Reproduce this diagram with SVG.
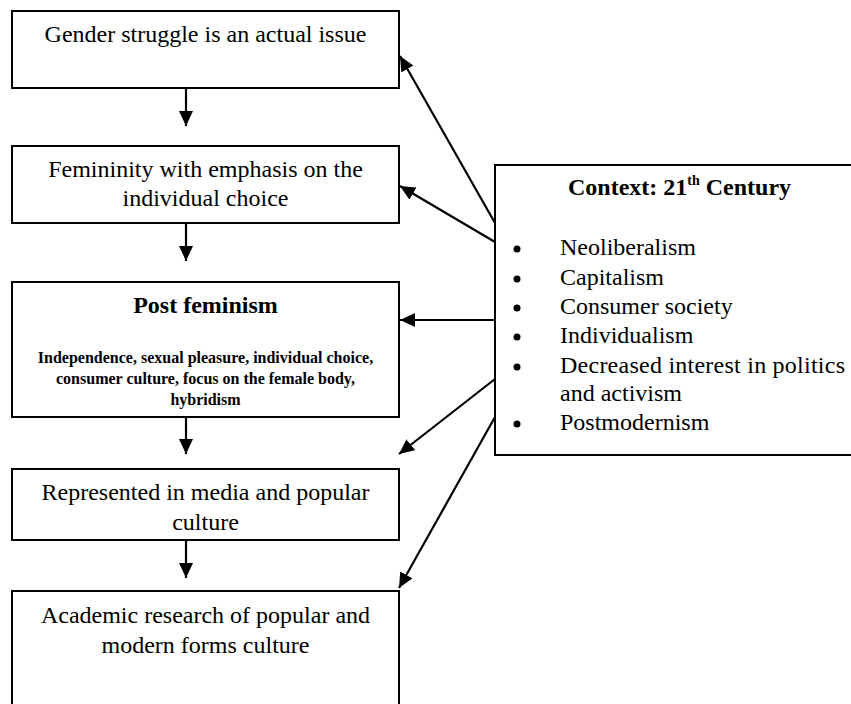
<svg xmlns="http://www.w3.org/2000/svg" width="851" height="704" viewBox="0 0 851 704">
<defs>
<style>
.box{fill:#fff;stroke:#000;stroke-width:2}
.t{font-family:"Liberation Serif","Times New Roman",serif;font-size:24px;fill:#000}
.c{text-anchor:middle}
.b{font-weight:bold}
.s{font-size:16px}
.ln{stroke:#000;stroke-width:2.2;fill:none}
</style>
<marker id="ah" markerUnits="userSpaceOnUse" markerWidth="16" markerHeight="14" refX="15" refY="7" orient="auto">
<path d="M0,0 L15,7 L0,14 Z" fill="#000"/>
</marker>
</defs>
<rect width="851" height="704" fill="#fff"/>
<g id="node-gender">
<rect class="box" x="12" y="11" width="387" height="77"/>
<text class="t c" x="205.5" y="42">Gender struggle is an actual issue</text>
</g>
<g id="node-femininity">
<rect class="box" x="12" y="146" width="387" height="77"/>
<text class="t c" x="205.5" y="177">Femininity with emphasis on the</text>
<text class="t c" x="205.5" y="206">individual choice</text>
</g>
<g id="node-postfeminism">
<rect class="box" x="12" y="282" width="387" height="135"/>
<text class="t c b" x="205.5" y="313">Post feminism</text>
<text class="t c b s" x="205.5" y="363">Independence, sexual pleasure, individual choice,</text>
<text class="t c b s" x="205.5" y="384">consumer culture, focus on the female body,</text>
<text class="t c b s" x="205.5" y="405">hybridism</text>
</g>
<g id="node-represented">
<rect class="box" x="12" y="469" width="387" height="71"/>
<text class="t c" x="205.5" y="500">Represented in media and popular</text>
<text class="t c" x="205.5" y="530">culture</text>
</g>
<g id="node-academic">
<rect class="box" x="12" y="591" width="387" height="125"/>
<text class="t c" x="205.5" y="623">Academic research of popular and</text>
<text class="t c" x="205.5" y="653">modern forms culture</text>
</g>
<g id="node-context">
<rect class="box" x="495" y="165" width="370" height="290"/>
<text class="t b" x="568" y="195">Context: 21<tspan font-size="14" dy="-10">th</tspan><tspan dy="10"> Century</tspan></text>
<g fill="#000">
<circle cx="517" cy="249" r="3.5"/>
<circle cx="517" cy="279" r="3.5"/>
<circle cx="517" cy="308" r="3.5"/>
<circle cx="517" cy="337" r="3.5"/>
<circle cx="517" cy="367" r="3.5"/>
<circle cx="517" cy="424" r="3.5"/>
</g>
<text class="t" x="560" y="255">Neoliberalism</text>
<text class="t" x="560" y="285">Capitalism</text>
<text class="t" x="560" y="314">Consumer society</text>
<text class="t" x="560" y="343">Individualism</text>
<text class="t" x="560" y="373" textLength="285" lengthAdjust="spacing">Decreased interest in politics</text>
<text class="t" x="560" y="401">and activism</text>
<text class="t" x="560" y="430">Postmodernism</text>
</g>
<g id="connectors">
<line class="ln" x1="186" y1="88" x2="186" y2="126" marker-end="url(#ah)"/>
<line class="ln" x1="186" y1="223" x2="186" y2="261" marker-end="url(#ah)"/>
<line class="ln" x1="186" y1="417" x2="186" y2="454" marker-end="url(#ah)"/>
<line class="ln" x1="186" y1="540" x2="186" y2="578" marker-end="url(#ah)"/>
<line class="ln" x1="495" y1="223" x2="400" y2="56" marker-end="url(#ah)"/>
<line class="ln" x1="495" y1="242" x2="400" y2="186" marker-end="url(#ah)"/>
<line class="ln" x1="495" y1="320" x2="400" y2="320" marker-end="url(#ah)"/>
<line class="ln" x1="495" y1="379" x2="399" y2="454" marker-end="url(#ah)"/>
<line class="ln" x1="495" y1="417" x2="399" y2="588" marker-end="url(#ah)"/>
</g>
</svg>
